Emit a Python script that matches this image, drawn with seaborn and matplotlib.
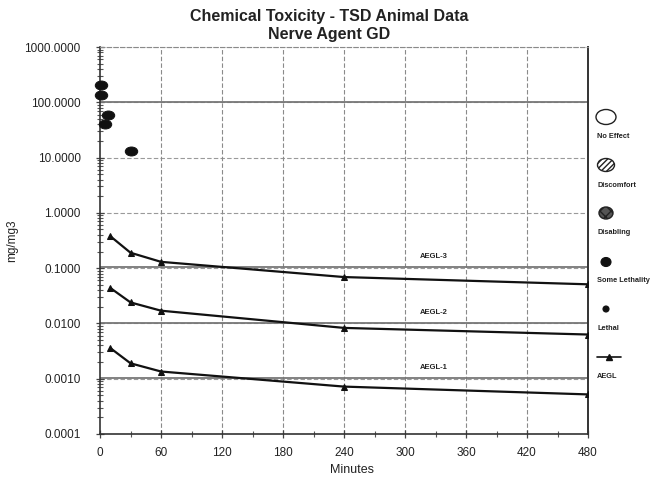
import numpy as np
import pandas as pd
import matplotlib
matplotlib.use("Agg")
import matplotlib.pyplot as plt
from matplotlib.path import Path
from matplotlib.patches import Ellipse
from matplotlib.lines import Line2D
from matplotlib.ticker import FixedLocator, LogLocator, NullFormatter, FuncFormatter
import seaborn as sns

# AEGL exposure guideline levels (mg/m3) by exposure duration (minutes)
aegl_minutes = [10, 30, 60, 240, 480]
aegl1 = [0.0036, 0.0019, 0.00135, 0.00072, 0.00052]
aegl2 = [0.044, 0.024, 0.017, 0.0083, 0.0063]
aegl3 = [0.38, 0.19, 0.13, 0.069, 0.051]
aegl_names = ["AEGL-1", "AEGL-2", "AEGL-3"]
aegl_label_pos = [0.0016, 0.016, 0.16]

# Animal exposures with some lethality
animal_minutes = [1, 1, 8, 5, 30]
animal_conc = [204, 134, 60, 40, 13]

x_ticks = [0, 60, 120, 180, 240, 300, 360, 420, 480]
y_ticks = [0.0001, 0.001, 0.01, 0.1, 1, 10, 100, 1000]
legend_names = ["No Effect", "Discomfort", "Disabling", "Some Lethality", "Lethal", "AEGL"]

sns.set_theme(style="white")
plt.rcParams["font.family"] = ["Liberation Sans", "DejaVu Sans"]

fig = plt.figure(figsize=(6.58, 4.80), dpi=100)
W, H = 658, 480
ax = fig.add_axes([100 / W, 1 - 434 / H, 488 / W, 387 / H])

aegl_df = pd.DataFrame({
    "minutes": aegl_minutes * 3,
    "conc": aegl1 + aegl2 + aegl3,
    "level": sum([[n] * len(aegl_minutes) for n in aegl_names], []),
})

# grid
for yv in y_ticks:
    ax.axhline(yv, color="#9a9a9a", lw=0.8, ls=(0, (4, 2)), zorder=0)
for xv in x_ticks[1:-1]:
    ax.axvline(xv, color="#8a8a8a", lw=0.8, ls=(0, (4, 2)), zorder=0)
for yv in [100, 0.1, 0.01, 0.001]:
    ax.axhline(yv * 1.03, color="#777777", lw=1.3, zorder=1)

sns.lineplot(data=aegl_df, x="minutes", y="conc", hue="level",
             palette=["#111111"] * 3, marker="^", markersize=5,
             markeredgecolor="#111111", linewidth=1.6, legend=False, ax=ax, zorder=3)

circ = Path.unit_circle()
ellipse_marker = Path(circ.vertices * np.array([1.0, 0.72]), circ.codes)
sns.scatterplot(x=animal_minutes, y=animal_conc, marker=ellipse_marker, s=80,
                color="#111111", edgecolor="#111111", legend=False, ax=ax,
                zorder=4, clip_on=False)

for name, yv in zip(aegl_names, aegl_label_pos):
    ax.text(328, yv, name, fontsize=5.5, ha="center", va="center",
            fontweight="bold", color="#222222")

ax.set_yscale("log")
ax.set_xlim(0, 480)
ax.set_ylim(0.0001, 1000)
ax.xaxis.set_major_locator(FixedLocator(x_ticks))
ax.xaxis.set_minor_locator(FixedLocator(list(range(30, 480, 60))))
ax.yaxis.set_major_locator(FixedLocator(y_ticks))
ax.yaxis.set_minor_locator(LogLocator(base=10, subs=np.arange(2, 10)))
ax.yaxis.set_minor_formatter(NullFormatter())
ax.yaxis.set_major_formatter(FuncFormatter(lambda v, p: f"{v:.4f}"))
ax.tick_params(axis="both", which="major", direction="inout", length=6,
               width=0.9, color="#444444", labelsize=8.5, labelcolor="#222222",
               left=True, bottom=True)
ax.tick_params(axis="y", which="major", pad=11)
ax.tick_params(axis="x", which="major", pad=6)
ax.tick_params(axis="both", which="minor", direction="inout", length=4,
               width=0.8, color="#555555", left=True, bottom=True)

for side in ["left", "bottom"]:
    ax.spines[side].set_color("#333333")
    ax.spines[side].set_linewidth(1.2)
ax.spines["right"].set_color("#333333")
ax.spines["right"].set_linewidth(1.4)
ax.spines["top"].set_color("#8a8a8a")
ax.spines["top"].set_linestyle((0, (4, 2)))
ax.spines["top"].set_linewidth(0.8)

ax.set_xlabel("Minutes", fontsize=9, color="#222222")
ax.xaxis.set_label_coords((352 - 100) / 488, -(464 - 434) / 387)
ax.set_ylabel("mg/mg3", fontsize=8.5, color="#222222")
ax.yaxis.set_label_coords(-(100 - 18) / 488, 0.5)
ax.set_title("Chemical Toxicity - TSD Animal Data\nNerve Agent GD",
             fontsize=11.5, fontweight="bold", color="#222222", pad=6,
             linespacing=1.25, x=(329 - 100) / 488)

# legend column on the right
leg_x = 606
items = [
    (117, 20, 15, dict(facecolor="white", edgecolor="#222222", lw=1.0)),
    (165, 17, 13, dict(facecolor="white", edgecolor="#222222", lw=1.0, hatch="//////")),
    (213, 14, 12, dict(facecolor="#555555", edgecolor="#222222", lw=1.0, hatch="xxx")),
    (262, 10, 9, dict(facecolor="#111111", edgecolor="#111111", lw=0.8)),
    (309, 6, 6, dict(facecolor="#111111", edgecolor="#111111", lw=0.8)),
]
for (yc, w, h, kw) in items:
    fig.add_artist(Ellipse((leg_x / W, 1 - yc / H), w / W, h / H,
                           transform=fig.transFigure, **kw))
fig.add_artist(Line2D([597 / W, 621 / W], [1 - 357 / H] * 2, color="#111111",
                      lw=1.2, transform=fig.transFigure))
fig.add_artist(Line2D([609 / W], [1 - 357 / H], color="#111111", marker="^",
                      markersize=4, transform=fig.transFigure))
for name, yt in zip(legend_names, [137, 185, 233, 281, 329, 376]):
    fig.text(597 / W, 1 - yt / H, name, fontsize=5.3, fontweight="bold",
             color="#222222", ha="left", va="center")

fig.savefig("out.png", dpi=100)
